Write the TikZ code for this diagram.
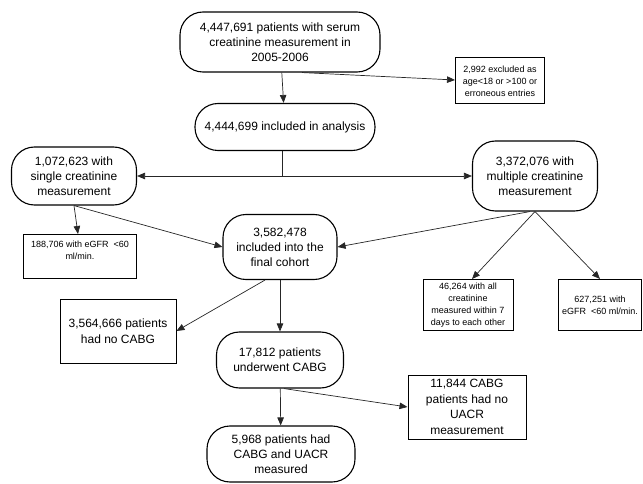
\documentclass[tikz,border=0pt]{standalone}
\usepackage{fontspec}
\setmainfont{Liberation Sans}
\usetikzlibrary{arrows.meta}

\begin{document}
\begin{tikzpicture}[x=1pt, y=-1pt]
    \tikzstyle{every node}=[align = center, inner sep=1pt]
    \tikzstyle{round box} = [draw, line width=1.1pt, rounded corners=23pt, font=\fontsize{12}{15}\selectfont]
    \tikzstyle{big box} = [draw, line width=1pt, font=\fontsize{12}{16}\selectfont]
    \tikzstyle{small box} = [draw, line width=1pt, font=\fontsize{9}{12}\selectfont]
    \tikzstyle{arr} = [-{Triangle[length=8pt,width=6.5pt]}, line width=0.7pt, black!85]
    \useasboundingbox (0,0) rectangle (643,484);
    \node[round box, minimum width=200pt, minimum height=60pt] (serum) at (280,42)
        {4,447,691 patients with serum \\ creatinine measurement in \\ 2005-2006};
    \node[small box, minimum width=89pt, minimum height=46pt] (excluded) at (500,81)
        {2,992 excluded as \\ age<18 or >100 or \\ erroneous entries};
    \node[round box, minimum width=180pt, minimum height=47pt] (analysis) at (285,127)
        {4,444,699 included in analysis};
    \node[round box, minimum width=125pt, minimum height=58pt] (single) at (74,176)
        {1,072,623 with \\ single creatinine \\ measurement};
    \node[round box, minimum width=125pt, minimum height=70pt] (multiple) at (535,176)
        {3,372,076 with \\ multiple creatinine \\ measurement};
    \node[small box, minimum width=113pt, minimum height=44pt, anchor=north] (lowsingle) at (80,234)
        {188,706 with eGFR\ \ <60 \\ ml/min. \\ \mbox{}};
    \node[round box, minimum width=114pt, minimum height=65pt] (cohort) at (280,247)
        {3,582,478 \\ included into the \\ final cohort};
    \node[small box, minimum width=90pt, minimum height=51pt] (within) at (468,305)
        {46,264 with all \\ creatinine \\ measured within 7 \\ days to each other};
    \node[small box, minimum width=83pt, minimum height=51pt] (lowmultiple) at (600,305)
        {627,251 with \\ eGFR\ \ <60 ml/min.};
    \node[big box, minimum width=116pt, minimum height=64pt] (nocabg) at (118,331)
        {3,564,666 patients \\ had no CABG};
    \node[round box, minimum width=127pt, minimum height=56pt] (cabg) at (280,360)
        {17,812 patients \\ underwent CABG};
    \node[big box, minimum width=118pt, minimum height=64pt, font=\fontsize{12}{15.5}\selectfont] (nouacr) at (467,407)
        {11,844 CABG \\ patients had no \\ UACR \\ measurement};
    \node[round box, minimum width=148pt, minimum height=56pt] (uacr) at (281,454)
        {5,968 patients had \\ CABG and UACR \\ measured};
    \coordinate (split) at (282,176);
    \draw[arr] (serum) -- (analysis);
    \draw[arr] ([xshift=22pt]serum.south) -- ([yshift=1pt]excluded.west);
    \draw[line width=0.7pt, black!85] ([xshift=-3pt]analysis.south) -- (split);
    \draw[arr] (split) -- (single.east);
    \draw[arr] (split) -- (multiple.west);
    \draw[arr] (single.south) -- ([xshift=-2pt]lowsingle.north);
    \draw[arr] (single.south) -- (cohort.west);
    \draw[arr] ([xshift=-5pt]multiple.south) -- (cohort.east);
    \draw[arr] (multiple.south) -- ([xshift=4pt]within.north);
    \draw[arr] (multiple.south) -- (lowmultiple.north);
    \draw[arr] ([xshift=-15pt]cohort.south) -- (nocabg.east);
    \draw[arr] (cohort) -- (cabg);
    \draw[arr] ([xshift=4pt]cabg.south) -- (nouacr.west);
    \draw[arr] (cabg) -- (uacr);
\end{tikzpicture}
\end{document}
